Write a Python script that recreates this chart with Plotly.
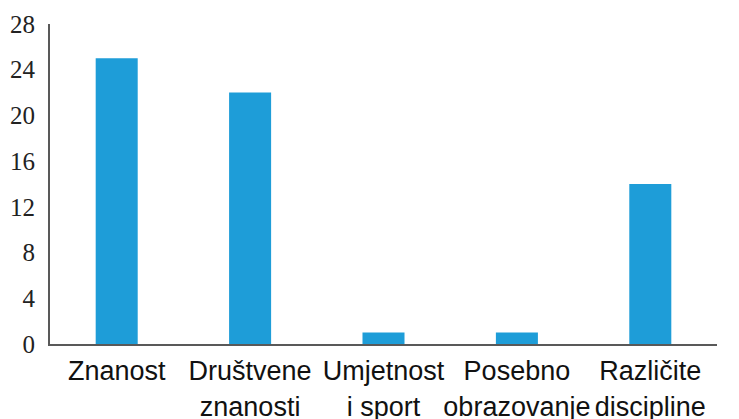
import plotly.graph_objects as go

categories = ["Znanost", "Društvene<br>znanosti", "Umjetnost<br>i sport", "Posebno<br>obrazovanje", "Različite<br>discipline"]
values = [25, 22, 1, 1, 14]
y_ticks = [0, 4, 8, 12, 16, 20, 24, 28]

fig = go.Figure(go.Bar(
    x=categories, y=values,
    marker=dict(color="#1E9DD8", line=dict(width=0)),
    width=0.315,
))

# page body has an 8px default margin, so the figure is offset by 8px
fig.update_layout(
    width=731, height=420,
    margin=dict(l=42, r=22, t=16, b=84),
    paper_bgcolor="white", plot_bgcolor="white",
    showlegend=False,
    xaxis=dict(
        showline=True, linecolor="#595959", linewidth=2,
        showgrid=False, zeroline=False, ticks="", automargin=False,
        tickangle=0, ticklabelstandoff=2,
        tickfont=dict(family="Liberation Sans, Arial", size=27, color="#111"),
    ),
    yaxis=dict(
        range=[0, 28], tickvals=y_ticks, ticktext=[str(v) for v in y_ticks],
        showline=True, linecolor="#595959", linewidth=2,
        showgrid=False, zeroline=False, ticks="", automargin=False,
        ticklabelstandoff=8,
        tickfont=dict(family="Liberation Serif, Times New Roman", size=25, color="#222"),
    ),
)

fig.write_html("out.html")
